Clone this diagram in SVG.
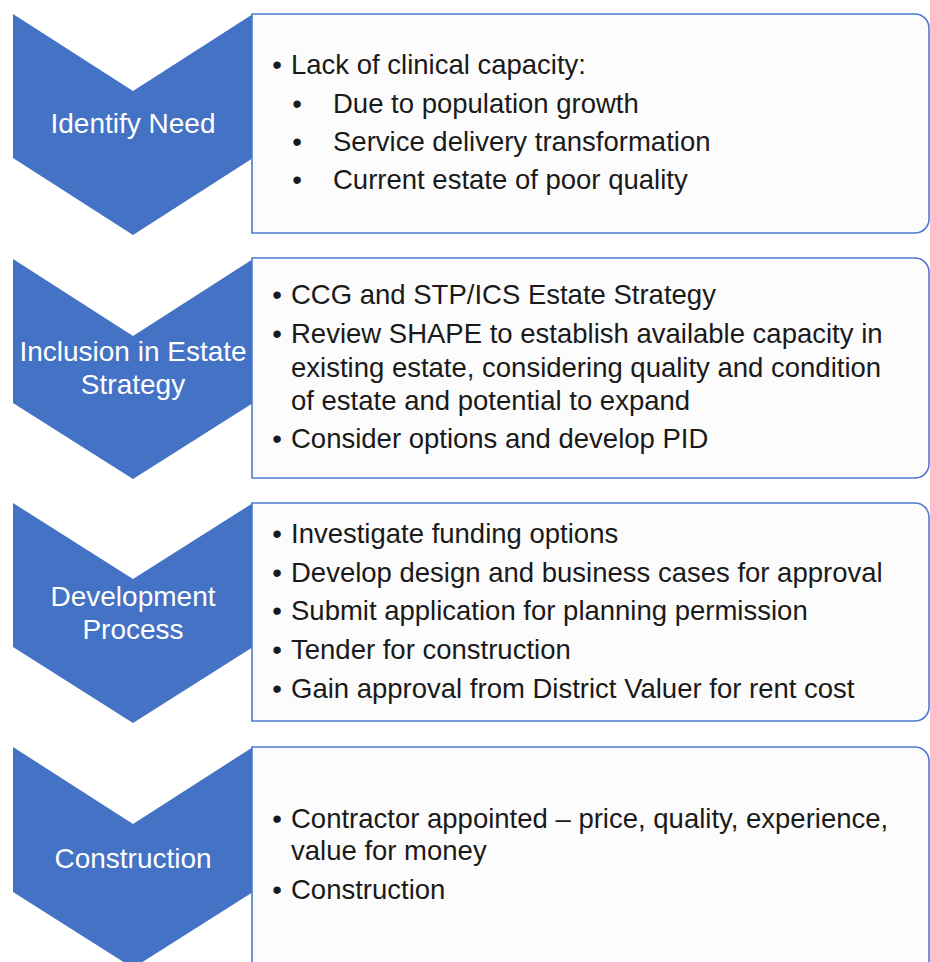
<svg xmlns="http://www.w3.org/2000/svg" width="930" height="962" viewBox="0 0 930 962">
<style>
.chev{fill:#4472C4;}
.box{fill:#FCFCFC;stroke:#4C7BD0;stroke-width:1.6;}
.lbl{font-family:"Liberation Sans",Arial,sans-serif;font-size:28px;fill:#FFFFFF;text-anchor:middle;}
.t{font-family:"Liberation Sans",Arial,sans-serif;font-size:27.5px;fill:#1A1A1A;}
.b{font-family:"Liberation Sans",Arial,sans-serif;font-size:27.5px;fill:#1A1A1A;text-anchor:middle;}
</style>
<rect width="930" height="962" fill="#FFFFFF"/>
<g id="step1">
<polygon class="chev" points="13,14 133,91 253,14 253,158 133,235 13,158"/>
<text class="lbl" x="133" y="133">Identify Need</text>
</g>
<g id="detail1">
<path class="box" d="M252,14 H915 A14,14 0 0 1 929,28 V219 A14,14 0 0 1 915,233 H252 Z"/>
<text class="b" x="277" y="74">•</text><text class="t" x="291" y="74">Lack of clinical capacity:</text>
<text class="b" x="297" y="113">•</text><text class="t" x="333" y="113">Due to population growth</text>
<text class="b" x="297" y="151">•</text><text class="t" x="333" y="151">Service delivery transformation</text>
<text class="b" x="297" y="189">•</text><text class="t" x="333" y="189">Current estate of poor quality</text>
</g>
<g id="step2">
<polygon class="chev" points="13,259 133,336 253,259 253,403 133,479 13,403"/>
<text class="lbl" x="133" y="361">Inclusion in Estate<tspan x="133" dy="33">Strategy</tspan></text>
</g>
<g id="detail2">
<path class="box" d="M252,258 H915 A14,14 0 0 1 929,272 V464 A14,14 0 0 1 915,478 H252 Z"/>
<text class="b" x="277" y="304">•</text><text class="t" x="291" y="304">CCG and STP/ICS Estate Strategy</text>
<text class="b" x="277" y="343">•</text><text class="t" x="291" y="343">Review SHAPE to establish available capacity in<tspan x="291" dy="33.5">existing estate, considering quality and condition</tspan><tspan x="291" dy="33.5">of estate and potential to expand</tspan></text>
<text class="b" x="277" y="448">•</text><text class="t" x="291" y="448">Consider options and develop PID</text>
</g>
<g id="step3">
<polygon class="chev" points="13,503 133,579 253,503 253,647 133,723 13,647"/>
<text class="lbl" x="133" y="606">Development<tspan x="133" dy="33">Process</tspan></text>
</g>
<g id="detail3">
<path class="box" d="M252,503 H915 A14,14 0 0 1 929,517 V707 A14,14 0 0 1 915,721 H252 Z"/>
<text class="b" x="277" y="543">•</text><text class="t" x="291" y="543">Investigate funding options</text>
<text class="b" x="277" y="582">•</text><text class="t" x="291" y="582">Develop design and business cases for approval</text>
<text class="b" x="277" y="620">•</text><text class="t" x="291" y="620">Submit application for planning permission</text>
<text class="b" x="277" y="659">•</text><text class="t" x="291" y="659">Tender for construction</text>
<text class="b" x="277" y="698">•</text><text class="t" x="291" y="698">Gain approval from District Valuer for rent cost</text>
</g>
<g id="step4">
<polygon class="chev" points="13,747 133,824 253,747 253,892 133,968 13,892"/>
<text class="lbl" x="133" y="868">Construction</text>
</g>
<g id="detail4">
<path class="box" d="M252,747 H915 A14,14 0 0 1 929,761 V980 H252 Z"/>
<text class="b" x="277" y="828">•</text><text class="t" x="291" y="828">Contractor appointed – price, quality, experience,<tspan x="291" dy="31.5">value for money</tspan></text>
<text class="b" x="277" y="899">•</text><text class="t" x="291" y="899">Construction</text>
</g>
<g id="connectors"></g>
</svg>
